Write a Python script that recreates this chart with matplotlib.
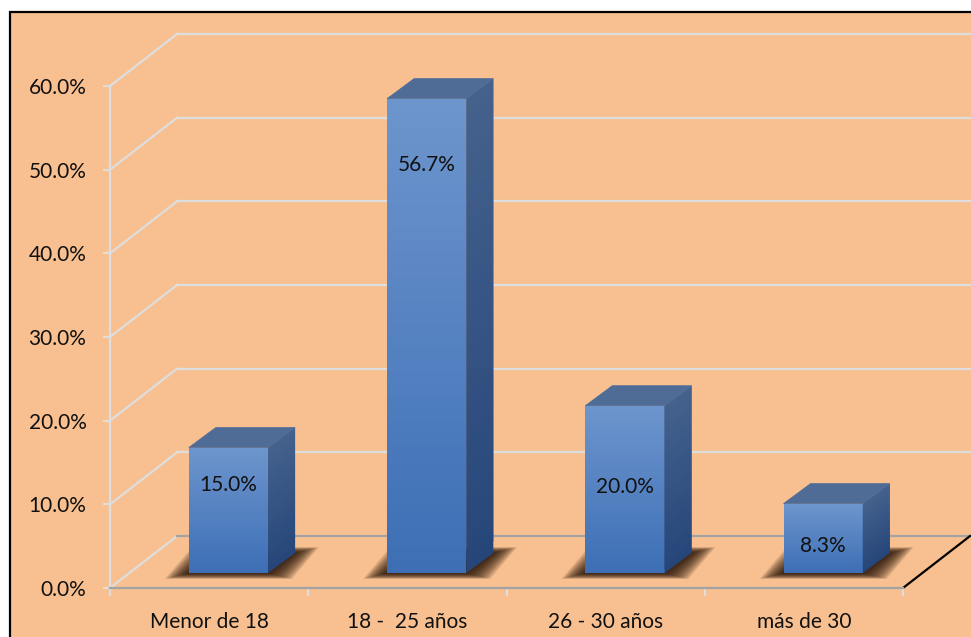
import numpy as np
import matplotlib.pyplot as plt
from matplotlib.patches import Polygon, Rectangle
from matplotlib.colors import to_rgb

plt.rcParams['font.family'] = ['Lato', 'DejaVu Sans']

# datos de la gráfica
categorias = ["Menor de 18", "18 -  25 años", "26 - 30 años", "más de 30"]
porcentajes = [15.0, 56.7, 20.0, 8.3]
etiquetas = ["15.0%", "56.7%", "20.0%", "8.3%"]
altura_etiqueta = [12.3, 50.5, 12.1, 5.0]
marcas_y = [0, 10, 20, 30, 40, 50, 60]

fondo = '#F8C090'
rejilla = '#DEDEDE'

# profundidad del efecto 3D (en unidades de datos)
prof_x, prof_y = 0.338, 6.21
barra_dx, barra_dy = 0.0975, 1.79
barra_px, barra_py = 0.136, 2.39
media_ancho = 0.2


def mezcla(c1, c2, t):
    a, b = np.array(to_rgb(c1)), np.array(to_rgb(c2))
    return a + (b - a) * t


def cara_degradada(ax, abajo_izq, abajo_der, arriba_izq, arriba_der, c_arriba, c_abajo, z, n=40):
    # franjas horizontales solapadas para simular el degradado sin costuras
    bl, br, tl, tr = map(np.array, (abajo_izq, abajo_der, arriba_izq, arriba_der))
    for k in range(n):
        t0, t1 = k / n, min((k + 2) / n, 1.0)
        pts = [bl + (tl - bl) * t0, br + (tr - br) * t0,
               br + (tr - br) * t1, bl + (tl - bl) * t1]
        col = mezcla(c_abajo, c_arriba, (k + 0.5) / n)
        ax.add_patch(Polygon(pts, closed=True, fc=col, ec='none',
                             zorder=z, clip_on=False))


fig = plt.figure(figsize=(9.71, 6.37), dpi=100, facecolor='white')
fig.patches.append(Rectangle((10 / 971, -0.05), 1.0, 1 - 12 / 637 + 0.05,
                             transform=fig.transFigure, fc=fondo,
                             ec='black', lw=1.6, zorder=-10))

ax = fig.add_axes([110 / 971, 49 / 637, 793 / 971, 502 / 637])
ax.patch.set_visible(False)
ax.set_xlim(-0.5, 3.5)
ax.set_ylim(0, 60)

# pared lateral y pared del fondo
for v in marcas_y:
    ax.plot([-0.5, -0.5 + prof_x], [v, v + prof_y], color=rejilla, lw=1.6,
            clip_on=False, zorder=1)
    col = '#A3A3A3' if v == 0 else rejilla
    ax.plot([-0.5 + prof_x, 3.5 + prof_x], [v + prof_y] * 2, color=col,
            lw=1.6, clip_on=False, zorder=1)

# borde derecho del piso
ax.plot([3.5, 3.5 + prof_x], [0, prof_y], color='black', lw=1.6,
        clip_on=False, zorder=1)

for i, v in enumerate(porcentajes):
    x0 = i - media_ancho + barra_dx
    x1 = i + media_ancho + barra_dx
    y0 = barra_dy
    y1 = barra_dy + v

    # sombra difusa bajo la barra
    capas = 14
    for k in range(capas):
        ex = 0.12 * (1 - k / capas)
        ey = 0.7 * (1 - k / capas)
        sombra = [(x0 - ex, y0 - ey), (x1 + ex, y0 - ey),
                  (x1 + barra_px + ex, y0 + barra_py + ey),
                  (x0 + barra_px - ex, y0 + barra_py + ey)]
        ax.add_patch(Polygon(sombra, closed=True, fc='#221104', ec='none',
                             alpha=0.12, zorder=2, clip_on=False))

    # cara frontal, lateral y superior
    cara_degradada(ax, (x0, y0), (x1, y0), (x0, y1), (x1, y1),
                   '#6D95CD', '#3D6FB5', 4)
    cara_degradada(ax, (x1, y0), (x1 + barra_px, y0 + barra_py),
                   (x1, y1), (x1 + barra_px, y1 + barra_py),
                   '#45628D', '#26467A', 4)
    tapa = [(x0, y1), (x1, y1), (x1 + barra_px, y1 + barra_py),
            (x0 + barra_px, y1 + barra_py)]
    ax.add_patch(Polygon(tapa, closed=True, fc='#4F6C97', ec='#4F6C97',
                         lw=0.5, zorder=4, clip_on=False))

    ax.text(i + barra_dx, altura_etiqueta[i], etiquetas[i], ha='center',
            va='center', fontsize=15, color='#111111', zorder=10)

# ejes
ax.set_yticks(marcas_y)
ax.set_yticklabels([f"{v:.1f}%" for v in marcas_y])
ax.set_xticks(range(len(categorias)))
ax.set_xticklabels(categorias)
ax.set_xticks(np.arange(-0.5, len(categorias), 1), minor=True)
ax.tick_params(axis='y', colors='#111111', labelsize=15, length=5,
               width=1.5, pad=12)
ax.tick_params(axis='y', color=rejilla)
ax.tick_params(axis='x', which='major', length=0, labelsize=15, pad=17,
               labelcolor='#111111')
ax.tick_params(axis='x', which='minor', length=6, width=1.5, color=rejilla)

for lado in ('top', 'right'):
    ax.spines[lado].set_visible(False)
ax.spines['left'].set_color(rejilla)
ax.spines['left'].set_linewidth(1.6)
ax.spines['bottom'].set_color('#A3A3A3')
ax.spines['bottom'].set_linewidth(1.6)

fig.savefig('out.png', dpi=100, facecolor='white')
